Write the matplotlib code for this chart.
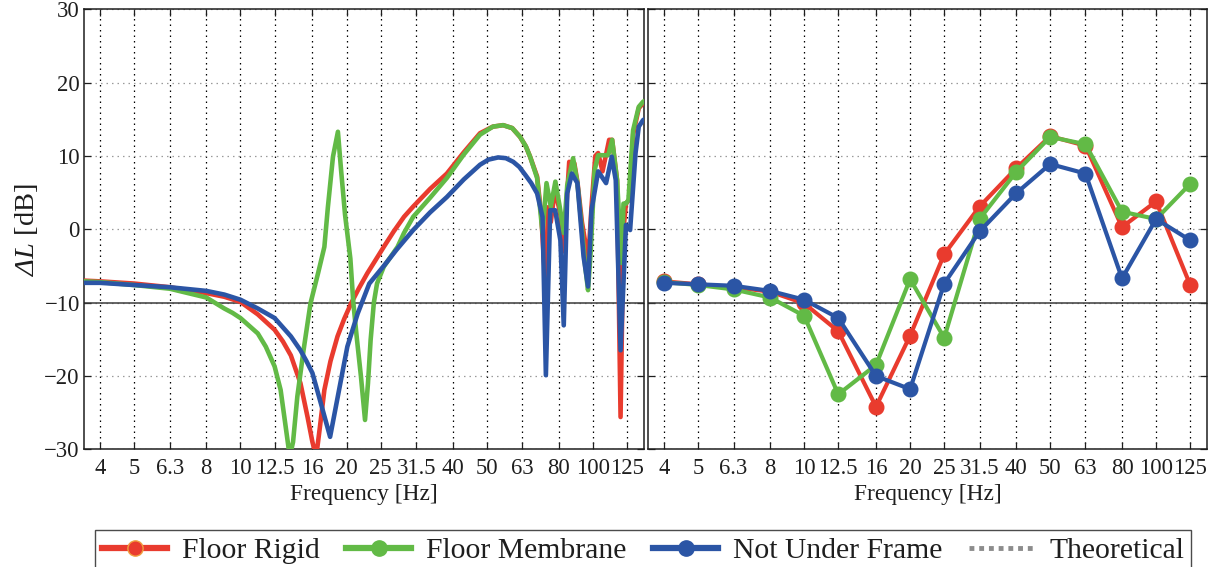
import matplotlib
matplotlib.use("Agg")
import matplotlib.pyplot as plt
from matplotlib.lines import Line2D
from matplotlib.ticker import NullLocator, FixedLocator, FixedFormatter

plt.rcParams['font.family'] = ['Liberation Serif', 'DejaVu Serif']
plt.rcParams['mathtext.fontset'] = 'custom'
plt.rcParams['mathtext.rm'] = 'Liberation Serif:italic'
plt.rcParams['mathtext.it'] = 'Liberation Serif:italic'

# One-third octave band centre frequencies
bands = [4, 5, 6.3, 8, 10, 12.5, 16, 20, 25, 31.5, 40, 50, 63, 80, 100, 125]
band_labels = ['4', '5', '6.3', '8', '10', '12.5', '16', '20', '25', '31.5',
               '40', '50', '63', '80', '100', '125']

# Narrowband level difference (left panel)
freq_rigid = [3.6, 4, 5, 6.3, 8, 9, 10, 11.2, 12.5, 13.2, 13.9, 14.8, 15.5, 16.0,
              16.4, 16.8, 17.3, 18.0, 18.85, 19.7, 20.6, 21.7, 22.9, 25.5, 27.2,
              29.1, 30.9, 34.5, 38.5, 43, 47.8, 52, 55.6, 59, 62.1, 64.5, 66.3,
              69.4, 71.3, 72.5, 73.5, 74.5, 75.9, 78.0, 80.8, 82.6, 84.5, 85.6,
              88.5, 90.3, 93, 96.9, 99, 101.5, 103.4, 106.4, 111.1, 113.3, 117.0,
              119.7, 122, 124, 127.3, 130, 134.8, 138.7, 140]
dl_rigid = [-7.0, -7.1, -7.4, -7.9, -8.7, -9.2, -9.9, -11.6, -13.7, -15.3, -17.2,
            -21.0, -25.6, -29.0, -31.0, -27.0, -21.9, -18.0, -14.6, -12.2, -10.1,
            -8.0, -6.0, -2.4, -0.3, 1.7, 3.1, 5.5, 7.6, 10.5, 13.1, 14.0, 14.2,
            13.8, 12.6, 11.3, 9.9, 7.2, 2.0, -4.0, -8.0, 3.0, 1.0, 5.5, 2.0,
            -3.0, 5.0, 9.2, 9.0, 6.5, 1.0, -4.2, 3.0, 10.0, 10.4, 7.9, 12.2,
            12.2, 6.7, -25.6, 0.0, 3.5, 4.2, 13.0, 16.5, 17.2, 17.4]

freq_membrane = [3.6, 4, 5, 6.3, 8, 9, 9.5, 10, 11.2, 11.8, 12.5, 13.0, 13.4, 13.8,
                 14.1, 14.5, 15.1, 15.8, 16.6, 17.3, 17.7, 18.3, 18.9, 19.3, 19.8,
                 20.5, 20.9, 21.4, 21.96, 22.56, 23.0, 23.4, 23.9, 24.4, 25.5,
                 27.9, 29.1, 30.9, 34.5, 38.5, 43, 47.8, 52, 55.6, 59, 62.1,
                 64.5, 66.3, 69.4, 71.9, 73.8, 75.9, 78.2, 80.5, 82.6, 84.5, 87.8,
                 90.3, 93, 95, 96.8, 98.5, 101, 103.4, 110.4, 113.3, 117.0,
                 120.5, 122, 124, 126, 129.9, 134.8, 138.7, 140]
dl_membrane = [-7.1, -7.2, -7.6, -8.1, -9.3, -10.8, -11.4, -12.1, -14.2, -16.0,
               -18.7, -21.9, -26.5, -31.0, -29.0, -22.8, -16.5, -10.1, -6.0, -2.4,
               3.0, 9.9, 13.3, 8.0, 2.0, -4.0, -10.0, -15.0, -20.0, -26.0, -21.0,
               -15.1, -10.0, -7.4, -5.1, -2.4, -0.5, 1.7, 4.3, 7.0, 10.2, 12.9,
               14.0, 14.2, 13.8, 12.6, 11.3, 9.9, 7.0, -0.5, 6.3, 3.1, 6.5, 3.0,
               -0.5, 6.0, 9.7, 6.3, 0.0, -5.0, -8.3, -3.0, 8.0, 10.1, 10.1, 12.2,
               6.7, -4.6, 3.5, 3.5, 4.0, 13.5, 16.7, 17.4, 17.5]

freq_notunder = [3.6, 4, 5, 6.3, 8, 9, 10, 11.2, 12.5, 13.9, 14.8, 15.4, 16, 16.9,
                 17.96, 18.8, 20.1, 21.5, 23.2, 25.5, 27.7, 30.9, 34.5, 38.5, 43,
                 47.8, 50.5, 53.8, 56.6, 59.4, 61.8, 64.3, 66.8, 69.4, 71.9, 73.5,
                 75.6, 78.1, 80.8, 82.6, 84.5, 87.1, 90.3, 94, 96.8, 99, 103.4,
                 108.9, 113, 116, 119.7, 124, 127.4, 132, 134.8, 138.7, 140]
dl_notunder = [-7.3, -7.3, -7.6, -7.9, -8.4, -8.9, -9.6, -10.8, -12.1, -14.6,
               -16.5, -18.0, -19.6, -23.7, -28.3, -23.3, -16.0, -11.5, -7.4, -5.0,
               -2.8, -0.1, 2.3, 4.4, 6.8, 8.8, 9.5, 9.8, 9.7, 9.2, 8.5, 7.4, 6.3,
               4.9, 1.7, -19.9, 2.6, 2.6, -1.5, -13.1, 4.9, 7.6, 6.3, -3.7, -7.8,
               2.6, 7.9, 6.3, 9.9, 6.7, -16.5, 0.6, -0.1, 10.4, 14.0, 14.9, 15.0]

# One-third octave band level difference (right panel)
band_rigid = [-7.1, -7.5, -7.9, -8.5, -10.1, -13.9, -24.2, -14.5, -3.4, 3.1,
              8.3, 12.7, 11.4, 0.3, 3.8, -7.6]
band_membrane = [-7.2, -7.6, -8.2, -9.3, -11.8, -22.5, -18.5, -6.8, -14.8, 1.4,
                 7.8, 12.6, 11.6, 2.4, 1.4, 6.2]
band_notunder = [-7.3, -7.5, -7.7, -8.4, -9.6, -12.1, -20.0, -21.8, -7.4, -0.3,
                 4.9, 8.9, 7.6, -6.7, 1.4, -1.5]

theoretical = -10.0

series_names = ['Floor Rigid', 'Floor Membrane', 'Not Under Frame', 'Theoretical']
RED = '#E93B2E'
GREEN = '#62BA46'
BLUE = '#2B55A5'
GRAY = '#8C8C8C'
INK = '#1e1e1e'

W, H = 1217, 567
fig = plt.figure(figsize=(W / 100, H / 100), dpi=100)

ax_l = fig.add_axes([84 / W, (H - 449.3) / H, (644 - 84) / W, 440 / H])
ax_r = fig.add_axes([648 / W, (H - 449.3) / H, (1207 - 648) / W, 440 / H])

for ax in (ax_l, ax_r):
    ax.set_xscale('log')
    ax.set_xlim(3.6, 139.5)
    ax.set_ylim(-30, 30)
    ax.xaxis.set_major_locator(FixedLocator(bands))
    ax.xaxis.set_major_formatter(FixedFormatter(band_labels))
    ax.xaxis.set_minor_locator(NullLocator())
    ax.set_yticks([-30, -20, -10, 0, 10, 20, 30])
    ax.grid(axis='x', color='black', linestyle=(0, (1.2, 3.2)), linewidth=0.9)
    ax.grid(axis='y', color='#9a9a9a', linestyle=(0, (1.2, 3.2)), linewidth=0.9)
    ax.set_axisbelow(True)
    ax.tick_params(direction='in', top=True, right=True, length=5, width=0.9,
                   labelsize=16.3, colors=INK)
    ax.tick_params(axis='x', pad=6)
    ax.tick_params(axis='y', pad=3)
    for sp in ax.spines.values():
        sp.set_linewidth(1.1)
        sp.set_color(INK)
    ax.axhline(theoretical, color='#3a3a3a', linewidth=1.1, zorder=1.5)
    ax.set_xlabel('Frequency [Hz]', fontsize=16.8, labelpad=4, color=INK)

ax_r.set_yticklabels([])
ax_l.set_yticklabels(['\u221230', '\u221220', '\u221210', '0', '10', '20', '30'])
ax_l.set_ylabel(r'$\Delta L$ [dB]', fontsize=20.5, labelpad=3, color=INK)

lw = 3.3
ax_l.plot(freq_rigid, dl_rigid, color=RED, linewidth=lw, solid_joinstyle='round', zorder=3)
ax_l.plot(freq_membrane, dl_membrane, color=GREEN, linewidth=lw, solid_joinstyle='round', zorder=4)
ax_l.plot(freq_notunder, dl_notunder, color=BLUE, linewidth=lw, solid_joinstyle='round', zorder=5)

ms = 10.5
ax_r.plot(bands, band_rigid, '-o', color=RED, linewidth=3.0, markersize=ms, zorder=3)
ax_r.plot(bands, band_membrane, '-o', color=GREEN, linewidth=3.0, markersize=ms, zorder=4)
ax_r.plot(bands, band_notunder, '-o', color=BLUE, linewidth=3.0, markersize=ms, zorder=5)

handles = [
    Line2D([], [], color=RED, linewidth=4.5, marker='o', markersize=11,
           markerfacecolor=RED, markeredgecolor='#F0A040', markeredgewidth=1.0),
    Line2D([], [], color=GREEN, linewidth=4.5, marker='o', markersize=11),
    Line2D([], [], color=BLUE, linewidth=4.5, marker='o', markersize=11),
    Line2D([], [], color=GRAY, linewidth=3.5, linestyle=(0, (1, 1))),
]
leg = fig.legend(handles, series_names, loc='upper center',
                 bbox_to_anchor=(643 / W, (H - 530) / H), ncol=4,
                 fontsize=21.3, frameon=True, fancybox=False, edgecolor=INK,
                 borderpad=0.25, handlelength=2.2, handletextpad=0.5,
                 columnspacing=0.9, borderaxespad=0)
leg.get_frame().set_linewidth(1.0)
for t in leg.get_texts():
    t.set_color(INK)

fig.savefig('out.png', dpi=100)
